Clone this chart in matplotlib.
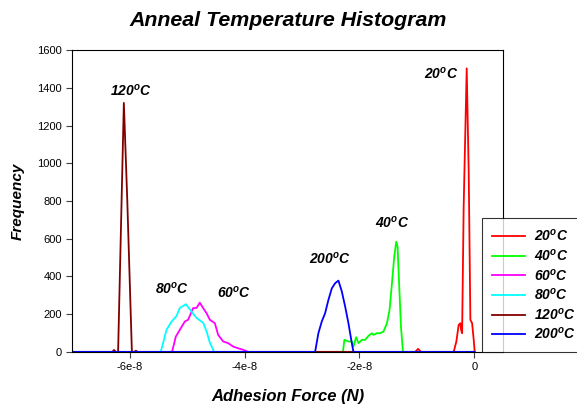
import numpy as np
import matplotlib
matplotlib.use("Agg")
import matplotlib.pyplot as plt

plt.rcParams['font.family'] = ['Liberation Sans', 'DejaVu Sans']
plt.rcParams['mathtext.fontset'] = 'custom'
plt.rcParams['mathtext.rm'] = 'Liberation Sans:bold:italic'
plt.rcParams['mathtext.it'] = 'Liberation Sans:bold:italic'

# Datos (fuerza en unidades de 1e-8 N)
x20 = [-7.0, -1.03, -0.98, -0.93, -0.361, -0.314, -0.274, -0.244, -0.232, -0.214, -0.187,
       -0.134, -0.099, -0.070, -0.040, -0.012, 0.005]
y20 = [0, 0, 16, 0, 0, 55, 143, 152, 117, 99, 770, 1503, 947, 170, 152, 64, 0]

x40 = [-7.0, -2.289, -2.262, -2.192, -2.133, -2.105, -2.058, -2.017, -1.958, -1.901, -1.843,
       -1.784, -1.756, -1.697, -1.639, -1.582, -1.522, -1.477, -1.435, -1.395, -1.360,
       -1.337, -1.308, -1.278, -1.243, 0.0]
y40 = [0, 0, 64, 55, 55, 28, 78, 46, 64, 64, 85, 99, 90, 99, 99, 108, 152, 222, 364, 505,
       584, 558, 346, 134, 0, 0]

x60 = [-7.0, -5.261, -5.196, -5.126, -5.039, -4.982, -4.895, -4.835, -4.778, -4.720, -4.661,
       -4.603, -4.516, -4.459, -4.371, -4.284, -4.197, -4.110, -4.023, -3.935, 0.0]
y60 = [0, 0, 81, 117, 161, 170, 232, 233, 261, 232, 205, 170, 152, 90, 55, 46, 28, 19, 11, 0, 0]

x80 = [-7.0, -5.458, -5.358, -5.271, -5.184, -5.126, -5.060, -5.021, -4.922, -4.835, -4.720,
       -4.660, -4.603, -4.528, 0.0]
y80 = [0, 0, 117, 160, 190, 233, 245, 253, 214, 180, 154, 108, 48, 0, 0]

x120 = [-7.0, -6.30, -6.27, -6.24, -6.20, -6.10, -6.04, -5.96, -5.92, -5.89, -5.86, 0.0]
y120 = [0, 0, 10, 0, 0, 1320, 800, 0, 0, 6, 0, 0]

x200 = [-7.0, -2.772, -2.715, -2.656, -2.598, -2.541, -2.481, -2.424, -2.366, -2.307, -2.249,
        -2.192, -2.133, -2.105, 0.0]
y200 = [0, 0, 99, 161, 205, 275, 337, 364, 378, 320, 240, 152, 46, 0, 0]

series = [
    ('20', x20, y20, '#ff0000'),
    ('40', x40, y40, '#00ff00'),
    ('60', x60, y60, '#ff00ff'),
    ('80', x80, y80, '#00ffff'),
    ('120', x120, y120, '#800000'),
    ('200', x200, y200, '#0000ff'),
]

fig = plt.figure(figsize=(5.77, 4.04), dpi=100)
ax = fig.add_axes([0.125, 0.129, 0.747, 0.747])

lineas = []
for nombre, xs, ys, c in series:
    l, = ax.plot(np.array(xs) * 1e-8, ys, color=c, lw=1.3, label=nombre + r'$^\mathrm{o}$C')
    lineas.append(l)

ax.set_xlim(-7.0e-8, 0.5e-8)
ax.set_ylim(0, 1600)
ax.set_yticks(range(0, 1601, 200))
ax.set_xticks([-6e-8, -4e-8, -2e-8, 0])
ax.set_xticklabels(['-6e-8', '-4e-8', '-2e-8', '0'])
ax.tick_params(labelsize=8, length=4, width=0.8, color='#404040')
for s in ax.spines.values():
    s.set_linewidth(0.8)

ax.set_title('Anneal Temperature Histogram', fontsize=15.4, fontweight='bold',
             fontstyle='italic', pad=17)
ax.set_xlabel('Adhesion Force (N)', fontsize=12, fontweight='bold', fontstyle='italic',
              labelpad=12)
ax.set_ylabel('Frequency', fontsize=11, fontweight='bold', fontstyle='italic', labelpad=9)

# Etiquetas de los picos
etiquetas = [('120', -5.98, 1383), ('80', -5.266, 334), ('60', -4.185, 313),
             ('200', -2.511, 493), ('40', -1.43, 683), ('20', -0.575, 1473)]
for nombre, xe, ye in etiquetas:
    ax.text(xe * 1e-8, ye, nombre + r'$^\mathrm{o}$C', fontsize=10, ha='center',
            va='center', fontweight='bold', fontstyle='italic')

leg = fig.legend(handles=lineas, loc='lower left', bbox_to_anchor=(482 / 577, 52 / 404),
                 bbox_transform=fig.transFigure, frameon=True, fancybox=False,
                 edgecolor='black', handlelength=2.4, handletextpad=0.6, borderpad=0.72,
                 borderaxespad=0, labelspacing=0.26,
                 prop={'weight': 'bold', 'style': 'italic', 'size': 10})
leg.get_frame().set_linewidth(0.8)

fig.savefig('out.png', dpi=100)
